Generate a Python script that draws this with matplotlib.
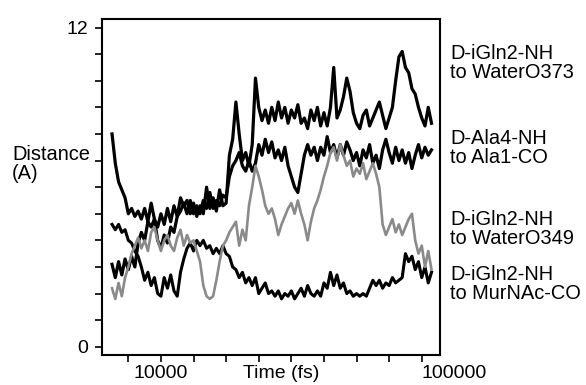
import matplotlib
matplotlib.use("Agg")
import matplotlib.pyplot as plt
import numpy as np

plt.rcParams['font.family'] = ['Liberation Sans', 'DejaVu Sans']

# time grid in fs (one sample every 1000 fs)
time_fs = np.arange(-5000, 93001, 1000)

# D-iGln2-NH to WaterO373
d_o373 = [8.0, 6.9, 6.2, 5.9, 5.6, 5.0, 5.2, 4.9, 5.1, 4.8,
          5.2, 4.7, 5.4, 4.8, 4.5, 5.0, 4.6, 5.2, 4.7, 5.3,
          4.9, 5.6, 5.3, 5.5, 5.0, 5.4, 4.9, 5.3, 5.0, 6.0,
          5.2, 5.6, 5.1, 5.9, 5.3, 5.4, 7.2, 7.8, 9.2, 8.0,
          7.0, 7.3, 6.8, 7.6, 10.1, 9.0, 8.5, 8.9, 8.4, 9.0,
          8.5, 9.2, 8.6, 9.0, 8.4, 8.9, 8.6, 9.1, 8.4, 8.6,
          8.2, 8.9, 8.5, 9.0, 8.3, 8.8, 8.3, 9.0, 10.5, 8.6,
          8.9, 9.4, 10.1, 9.6, 8.8, 8.4, 8.2, 8.7, 8.9, 8.3,
          8.6, 8.9, 9.2, 8.7, 8.2, 8.6, 9.0, 10.0, 10.9, 11.1,
          10.5, 10.3, 9.7, 9.5, 9.0, 8.6, 8.3, 9.0, 8.4]

# D-Ala4-NH to Ala1-CO
d_ala4 = [3.1, 2.6, 3.2, 2.7, 3.3, 2.9, 3.4, 3.0, 3.9, 4.3,
          4.0, 4.7, 4.5, 4.8, 4.0, 3.7, 4.2, 3.9, 4.5, 4.3,
          4.9, 5.1, 5.4, 5.0, 5.5, 5.0, 5.3, 5.0, 5.5, 5.2,
          5.8, 5.2, 5.5, 5.3, 5.7, 5.6, 6.4, 6.8, 7.0, 7.3,
          6.8, 6.6, 7.0, 6.6, 6.9, 7.6, 7.2, 7.8, 7.3, 7.7,
          7.1, 7.4, 7.0, 7.5, 6.8, 6.4, 6.0, 5.8, 6.5, 7.2,
          7.6, 7.2, 7.5, 7.0, 7.5, 7.2, 7.9, 7.3, 7.6, 7.1,
          7.6, 7.2, 7.7, 7.4, 7.0, 7.3, 6.8, 7.4, 7.1, 7.6,
          6.9, 7.2, 6.7, 7.4, 7.8, 7.3, 6.9, 7.5, 7.0, 7.4,
          6.9, 7.3, 6.7, 7.2, 7.6, 7.1, 7.5, 7.2, 7.4]

# D-iGln2-NH to WaterO349 (grey trace)
d_o349 = [2.2, 1.8, 2.4, 1.9, 2.6, 3.0, 3.5, 3.8, 4.1, 3.7,
          4.0, 3.6, 4.3, 4.5, 4.0, 3.6, 4.0, 4.2, 3.8, 3.6,
          4.1, 4.4, 3.8, 4.2, 3.9, 4.0, 3.6, 3.2, 2.3, 1.9,
          1.8, 1.9, 2.5, 3.2, 3.8, 4.0, 4.3, 4.5, 4.7, 3.8,
          4.4, 4.0, 5.3, 6.0, 6.8, 6.4, 5.9, 5.3, 5.0, 5.2,
          4.8, 4.2, 4.6, 4.9, 5.2, 5.4, 5.0, 5.5, 5.0, 4.6,
          4.0, 4.7, 5.2, 5.5, 5.9, 6.4, 6.8, 7.3, 7.5, 7.0,
          7.6, 7.2, 6.8, 7.0, 6.4, 6.7, 6.5, 6.9, 6.3, 6.6,
          6.9, 6.5, 6.0, 4.6, 4.2, 4.5, 4.8, 4.3, 4.6, 4.2,
          4.5, 4.8, 5.0, 4.0, 3.5, 3.8, 3.0, 3.6, 2.9]

# D-iGln2-NH to MurNAc-CO
d_murnac = [4.6, 4.4, 4.6, 4.3, 4.4, 4.0, 3.9, 3.6, 3.4, 3.0,
            2.5, 2.8, 2.3, 2.6, 2.0, 1.9, 2.6, 2.2, 2.7, 2.1,
            1.9, 2.8, 3.3, 3.7, 3.9, 3.6, 4.0, 3.8, 4.0, 3.7,
            3.8, 3.5, 3.7, 3.5, 3.8, 3.5, 3.4, 3.0, 2.9, 2.6,
            2.8, 2.4, 2.6, 2.3, 2.6, 2.0, 2.2, 2.4, 2.0, 2.1,
            1.9, 2.1, 1.8, 2.0, 1.9, 2.1, 1.8, 2.0, 2.2, 1.9,
            2.3, 2.0, 1.9, 2.1, 1.9, 2.4, 2.2, 2.8, 2.3, 2.7,
            2.2, 2.4, 2.0, 2.1, 1.9, 2.0, 1.9, 2.0, 1.9, 2.2,
            2.5, 2.3, 2.5, 2.2, 2.4, 2.3, 2.6, 2.4, 2.5, 2.6,
            3.5, 3.2, 3.4, 2.9, 3.2, 2.6, 3.0, 2.4, 2.8]

labels = ["D-iGln2-NH\nto WaterO373", "D-Ala4-NH\nto Ala1-CO",
          "D-iGln2-NH\nto WaterO349", "D-iGln2-NH\nto MurNAc-CO"]
label_y_px = [63, 148, 229, 284]

fig = plt.figure(figsize=(5.86, 3.85), dpi=100)
ax = fig.add_axes([0.1741, 0.0779, 0.5768, 0.8727])

ax.plot(time_fs, d_murnac, color='black', lw=2.2)
ax.plot(time_fs, d_ala4, color='black', lw=2.3)
ax.plot(time_fs, d_o373, color='black', lw=2.3)
ax.plot(time_fs, d_o349, color='#8a8a8a', lw=1.9)

ax.set_xlim(-8070, 95610)
ax.set_ylim(-0.31, 12.32)

ax.set_xticks(np.arange(0, 90001, 10000))
ax.set_xticklabels(['' if t != 10000 else '10000' for t in range(0, 90001, 10000)])
ax.set_yticks([0, 12])
ax.set_yticks(np.arange(1, 12), minor=True)

for s in ax.spines.values():
    s.set_linewidth(1.5)
ax.tick_params(axis='both', which='both', direction='out', length=5, width=1.2,
               labelsize=14)
ax.tick_params(axis='y', pad=5)
ax.tick_params(axis='x', pad=2)

# last label sits one tick beyond the frame
ax.text(100000, -0.31 - 10 / 26.6, '100000', fontsize=14,
        ha='center', va='top', clip_on=False)

W, H = 586, 385
fig.text(281 / W, 1 - 365 / H, 'Time (fs)', fontsize=14, ha='center', va='top')
fig.text(12 / W, 1 - 164 / H, 'Distance\n(A)', fontsize=14.4, ha='left',
         va='center', linespacing=1.0)
for lab, yp in zip(labels, label_y_px):
    fig.text(450 / W, 1 - yp / H, lab, fontsize=14.4, ha='left', va='center',
             linespacing=0.95)

fig.savefig('out.png', dpi=100)
